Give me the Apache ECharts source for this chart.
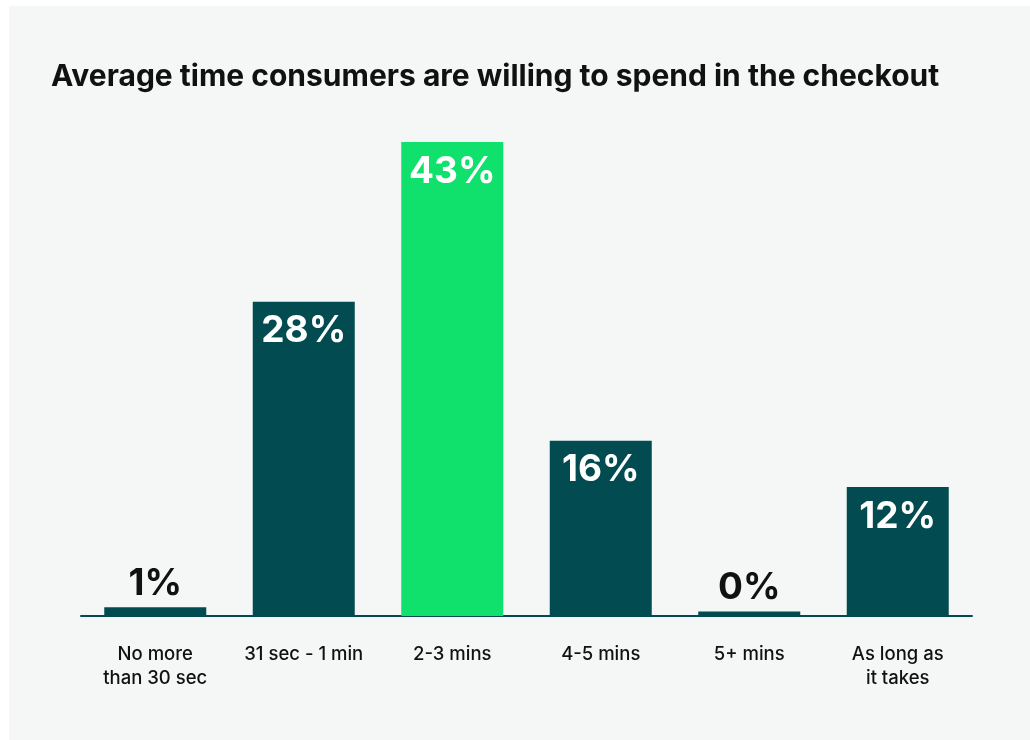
<!DOCTYPE html>
<html>
<head>
<meta charset="utf-8">
<script src="https://cdn.jsdelivr.net/npm/echarts@6/dist/echarts.min.js"></script>
<style>
  html, body { margin: 0; padding: 0; background: #ffffff; }
  #chart { position: absolute; left: 9px; top: 6px; width: 1021px; height: 734px; }
</style>
</head>
<body>
<div id="chart"></div>
<script>
// data
const categories = ['No more\nthan 30 sec', '31 sec - 1 min', '2-3 mins', '4-5 mins', '5+ mins', 'As long as\nit takes']
const shares = [0.8, 28.5, 43, 15.9, 0.4, 11.7]
const shareLabels = ['1%', '28%', '43%', '16%', '0%', '12%']
const highlight = [false, false, true, false, false, false]

const DARK = '#024b50'
const GREEN = '#10e06c'

const chart = echarts.init(document.getElementById('chart'))

const barData = shares.map((v, i) => {
  const small = v < 5
  return {
    value: v,
    itemStyle: { color: highlight[i] ? GREEN : DARK },
    label: {
      show: true,
      formatter: shareLabels[i],
      position: small ? 'top' : 'insideTop',
      distance: small ? 5 : 11,
      color: small ? '#111111' : '#ffffff',
      fontFamily: 'Inter',
      fontWeight: 'bold',
      fontSize: 37,
      lineHeight: 37
    }
  }
})

chart.setOption({
  backgroundColor: '#f5f7f6',
  animation: false,
  title: {
    text: 'Average time consumers are willing to spend in the checkout',
    left: 37,
    top: 48,
    textStyle: { fontFamily: 'Inter', fontWeight: 'bold', fontSize: 30, color: '#111111', lineHeight: 36 }
  },
  grid: { left: 72, right: 58, top: 136, bottom: 124 },
  xAxis: {
    type: 'category',
    data: categories,
    axisLine: { lineStyle: { color: DARK, width: 2 } },
    axisTick: { show: false },
    axisLabel: {
      interval: 0,
      margin: 26,
      color: '#111111',
      fontFamily: 'Inter',
      fontWeight: 500,
      fontSize: 18.5,
      lineHeight: 24,
      verticalAlign: 'top'
    }
  },
  yAxis: {
    type: 'value',
    min: 0,
    max: 43,
    show: false,
    splitLine: { show: false }
  },
  series: [{
    type: 'bar',
    barWidth: 102,
    data: barData
  }]
})
</script>
</body>
</html>
